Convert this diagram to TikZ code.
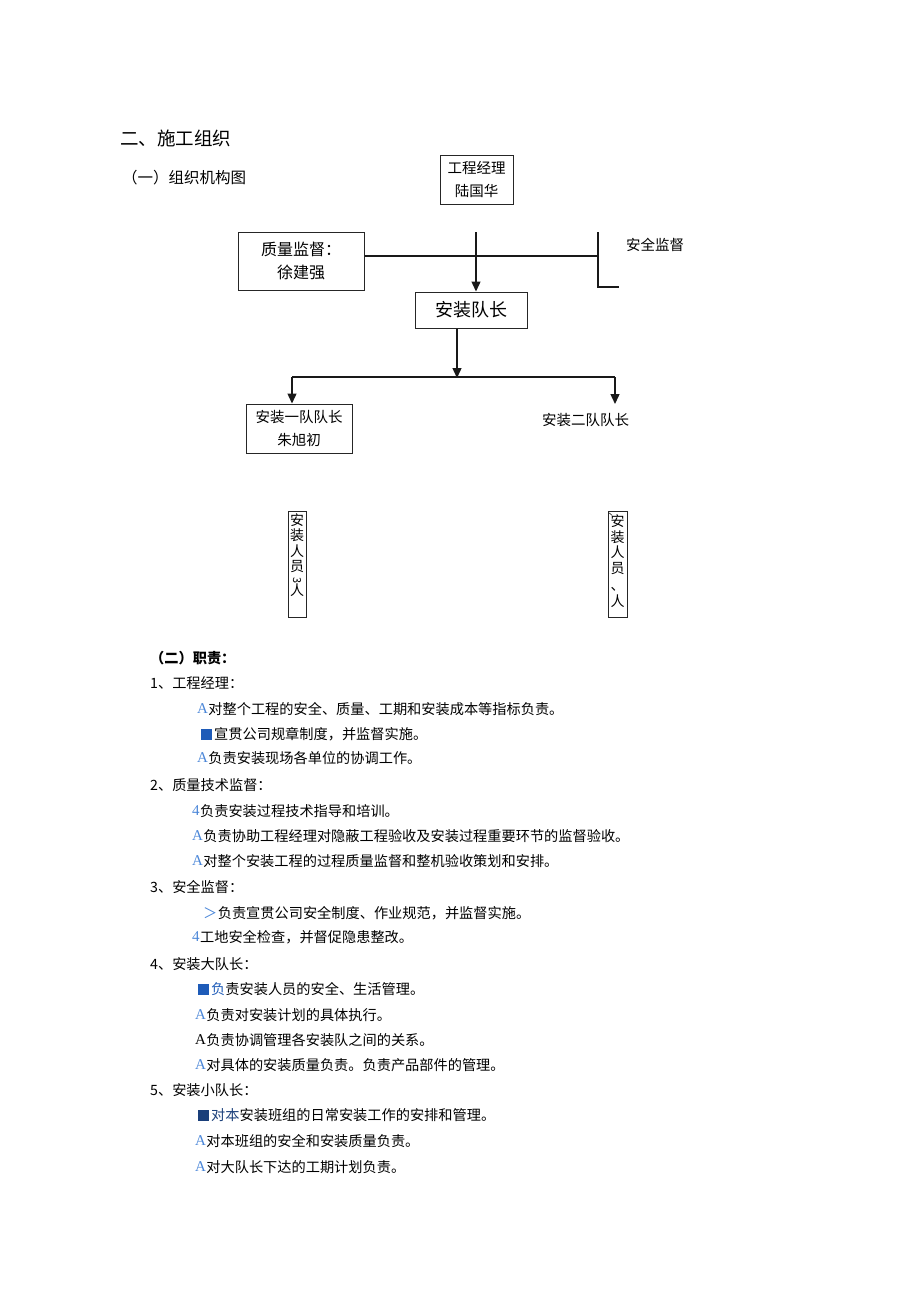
\documentclass[tikz,border=0pt]{standalone}
\usepackage{fontspec}
\usepackage{graphicx}
\setmainfont{Noto Sans CJK SC}
\newfontfamily\serifA{Liberation Serif}
\usetikzlibrary{arrows.meta}
\definecolor{mkblue}{HTML}{4A86D8}
\definecolor{sqblue}{HTML}{1E5BB8}
\definecolor{sqdark}{HTML}{1A3F7A}
\begin{document}
\begin{tikzpicture}[x=1pt,y=-1pt,
  box/.style={draw=black!85, line width=1pt, inner sep=0pt, align=center},
  conn/.style={line width=1.4pt, draw=black!90},
  arr/.style={conn, -{Triangle[width=9pt,length=10pt]}},
  txt/.style={anchor=west, inner sep=0pt, font=\fontsize{14.2}{17}\selectfont},
  mA/.style={anchor=west, inner sep=0pt, text=mkblue, font=\fontsize{15}{17}\serifA},
]
\useasboundingbox (0,0) rectangle (920,1301);

% headings
\node[anchor=west, inner sep=0pt, font=\fontsize{18.5}{20}\selectfont] (h1) at (120,138) {二、施工组织};
\node[anchor=west, inner sep=0pt, font=\fontsize{15.5}{18}\selectfont] (h2) at (122,178) {（一）组织机构图};

% chart boxes
\node[box, minimum width=73pt, minimum height=49pt, font=\fontsize{14.5}{23}\selectfont] (gm) at (476.5,179.5) {工程经理\\陆国华};
\node[box, minimum width=126pt, minimum height=58pt, font=\fontsize{16}{23}\selectfont] (qc) at (301,261) {质量监督：\\徐建强};
\node[anchor=west, inner sep=0pt, font=\fontsize{14.5}{17}\selectfont] (safe) at (626,245) {安全监督};
\node[box, minimum width=112pt, minimum height=36pt, font=\fontsize{18}{20}\selectfont] (tl) at (471,310) {安装队长};
\node[box, minimum width=106pt, minimum height=49pt, font=\fontsize{14.5}{23}\selectfont] (t1) at (299,428.5) {安装一队队长\\朱旭初};
\node[anchor=west, inner sep=0pt, font=\fontsize{14.5}{17}\selectfont] (t2) at (542,420) {安装二队队长};

\node[box, minimum width=18pt, minimum height=106pt, anchor=north] (w1) at (297,511)
  {\parbox[t][104pt][t]{16pt}{\centering\fontsize{14}{15.5}\selectfont\vspace{1pt}安\\装\\人\\员\\[-10pt]\rotatebox{-90}{\fontsize{11}{11}\selectfont 3}\\[-1pt]人}};
\node[box, minimum width=19pt, minimum height=106pt, anchor=north] (w2) at (617.5,511)
  {\parbox[t][104pt][t]{17pt}{\centering\fontsize{14}{15.5}\selectfont\vspace{1pt}\leavevmode\makebox[0pt][l]{\hspace{-2.5pt}\raisebox{6pt}{\fontsize{9}{9}\selectfont ˋ}}安\\装\\人\\员\\[2pt]、\\人}};

% connectors
\coordinate (gmdrop) at (476,232);
\draw[arr] (gmdrop) -- (gmdrop |- tl.north);
\coordinate (sv) at (598,256);
\draw[conn] (qc.east |- sv) -- (sv);
\coordinate (safeA) at (598,232);
\coordinate (safeB) at (619,287);
\draw[conn] (safeA) -- (safeA |- safeB) -- (safeB);
\coordinate (split) at (457,377);
\draw[arr] (tl.south -| split) -- ([yshift=-1pt]split);
\coordinate (bl) at (292,377);
\coordinate (br) at (615,377);
\draw[conn] (bl) -- (br);
\draw[arr] (bl) -- (bl |- t1.north);
\coordinate (t2top) at (615,404);
\draw[arr] (br) -- (t2top);

% duties
\node[txt, font=\fontsize{14.2}{17}\selectfont\bfseries] (d0) at (150,658) {（二）职责：};
\node[txt] (d1) at (150,683) {1、工程经理：};
\node[mA] (m11) at (197,709) {A};
\node[txt] (l11) at (m11.east) {对整个工程的安全、质量、工期和安装成本等指标负责。};
\node[anchor=west, inner sep=0pt, fill=sqblue, minimum width=11pt, minimum height=11pt] (m12) at (201,734) {};
\node[txt] (l12) at (214,734) {宣贯公司规章制度，并监督实施。};
\node[mA] (m13) at (197,758) {A};
\node[txt] (l13) at (m13.east) {负责安装现场各单位的协调工作。};

\node[txt] (d2) at (150,785) {2、质量技术监督：};
\node[mA] (m21) at (192,811) {4};
\node[txt] (l21) at (m21.east) {负责安装过程技术指导和培训。};
\node[mA] (m22) at (192,836) {A};
\node[txt] (l22) at (m22.east) {负责协助工程经理对隐蔽工程验收及安装过程重要环节的监督验收。};
\node[mA] (m23) at (192,861) {A};
\node[txt] (l23) at (m23.east) {对整个安装工程的过程质量监督和整机验收策划和安排。};

\node[txt] (d3) at (150,887) {3、安全监督：};
\node[txt, text=mkblue] (m31) at (203,913) {＞};
\node[txt] (l31) at (m31.east) {负责宣贯公司安全制度、作业规范，并监督实施。};
\node[mA] (m32) at (192,937) {4};
\node[txt] (l32) at (m32.east) {工地安全检查，并督促隐患整改。};

\node[txt] (d4) at (150,964) {4、安装大队长：};
\node[anchor=west, inner sep=0pt, fill=sqblue, minimum width=11pt, minimum height=11pt] (m41) at (198,989) {};
\node[txt] (l41) at (211,989) {\textcolor{sqblue}{负}责安装人员的安全、生活管理。};
\node[mA] (m42) at (195,1015) {A};
\node[txt] (l42) at (m42.east) {负责对安装计划的具体执行。};
\node[mA, text=black] (m43) at (195,1040) {A};
\node[txt] (l43) at (m43.east) {负责协调管理各安装队之间的关系。};
\node[mA] (m44) at (195,1065) {A};
\node[txt] (l44) at (m44.east) {对具体的安装质量负责。负责产品部件的管理。};

\node[txt] (d5) at (150,1090) {5、安装小队长：};
\node[anchor=west, inner sep=0pt, fill=sqdark, minimum width=11pt, minimum height=11pt] (m51) at (198,1115) {};
\node[txt] (l51) at (211,1115) {\textcolor{sqdark}{对本}安装班组的日常安装工作的安排和管理。};
\node[mA] (m52) at (195,1141) {A};
\node[txt] (l52) at (m52.east) {对本班组的安全和安装质量负责。};
\node[mA] (m53) at (195,1167) {A};
\node[txt] (l53) at (m53.east) {对大队长下达的工期计划负责。};
\end{tikzpicture}
\end{document}
